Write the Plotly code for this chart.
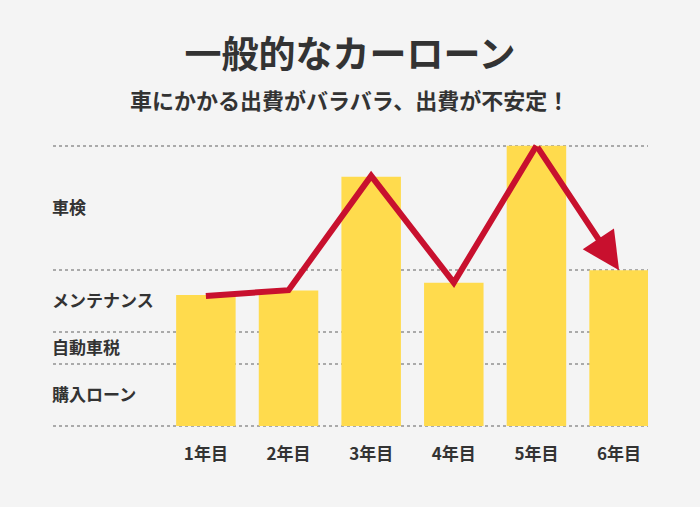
import plotly.graph_objects as go

# ---- data ----
years = ["1年目", "2年目", "3年目", "4年目", "5年目", "6年目"]
bar_values = [4.2, 4.35, 8.0, 4.6, 9.0, 5.0]
line_values = [4.17, 4.36, 8.03, 4.6, 9.0, 5.0]
cost_labels = ["購入ローン", "自動車税", "メンテナンス", "車検"]
cost_label_pos = [1, 2.5, 4, 7]
band_edges = [0, 2, 3, 5, 9]

title_text = "一般的なカーローン"
subtitle_text = "車にかかる出費がバラバラ、出費が不安定！"

BG = "#F4F4F4"
YELLOW = "#FFDB4D"
RED = "#C8102E"
TEXT = "#333333"
FONT = "Noto Sans CJK JP"

fig = go.Figure()

fig.add_trace(go.Bar(
    x=years, y=bar_values, width=0.72,
    marker=dict(color=YELLOW, line=dict(width=0)),
    hoverinfo="skip",
))

fig.add_trace(go.Scatter(
    x=years[:-1], y=line_values[:-1], mode="lines",
    line=dict(color=RED, width=6),
    hoverinfo="skip",
))

# final segment with arrow head
fig.add_annotation(
    x=len(years) - 1, y=line_values[-1],
    ax=len(years) - 2, ay=line_values[-2],
    xref="x", yref="y", axref="x", ayref="y",
    text="", showarrow=True,
    arrowhead=2, arrowsize=1.25, arrowwidth=6, arrowcolor=RED,
    standoff=0, startstandoff=0,
)

fig.add_annotation(
    text=subtitle_text, xref="paper", yref="paper",
    x=0.4975, y=1 + (127 - 99) / 302, xanchor="center", yanchor="middle",
    showarrow=False,
    font=dict(family=FONT, size=22, color=TEXT, weight=700),
)

fig.update_layout(
    width=700, height=507,
    paper_bgcolor=BG, plot_bgcolor=BG,
    margin=dict(l=53, r=52, t=127, b=78),
    showlegend=False,
    bargap=0.27,
    title=dict(
        text=title_text, x=0.5, xref="container", xanchor="center",
        y=1 - 55 / 507, yref="container", yanchor="middle",
        font=dict(family=FONT, size=37, color=TEXT, weight=700),
    ),
    xaxis=dict(
        type="category", range=[-1.85, 5.35],
        showgrid=False, zeroline=False, showline=False,
        ticks="outside", ticklen=10, tickcolor=BG,
        tickfont=dict(family=FONT, size=17, color=TEXT, weight=700),
        fixedrange=True,
    ),
    yaxis=dict(
        range=[-0.1, 9.6],
        tickvals=cost_label_pos, ticktext=cost_labels,
        ticklabelposition="inside", ticks="", ticklabelstandoff=-4,
        showgrid=False, zeroline=False, showline=False,
        tickfont=dict(family=FONT, size=17, color=TEXT, weight=700),
        minor=dict(tickvals=band_edges, showgrid=True, gridcolor="#AAAAAA",
                   gridwidth=1.5, griddash="dot", ticks=""),
        fixedrange=True,
    ),
)

fig.write_html("out.html")
